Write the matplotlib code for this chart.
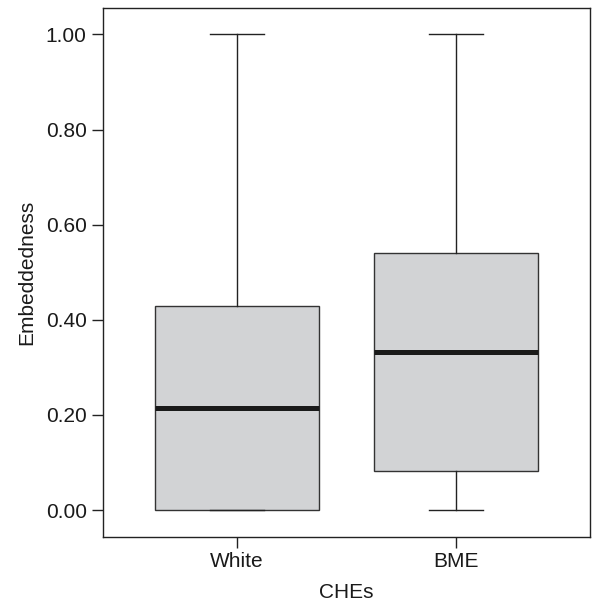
import matplotlib.pyplot as plt

plt.rcParams['font.family'] = ['Liberation Sans', 'DejaVu Sans']

# Values
groups = ['White', 'BME']
whisker_low = [0.0, 0.0]
q1 = [0.0, 0.083]
median = [0.214, 0.333]
q3 = [0.429, 0.541]
whisker_high = [1.0, 1.0]

stats = []
for i, name in enumerate(groups):
    stats.append({'label': name, 'whislo': whisker_low[i], 'q1': q1[i],
                  'med': median[i], 'q3': q3[i], 'whishi': whisker_high[i],
                  'fliers': []})

fig = plt.figure(figsize=(5.95, 6.04), dpi=100)
ax = fig.add_axes([0.1736, 0.1114, 0.818, 0.8749])

ax.bxp(stats, positions=[0, 1], widths=0.749, capwidths=0.245,
       showfliers=False, patch_artist=True,
       boxprops=dict(facecolor='#d2d3d5', edgecolor='#333333', linewidth=1.0),
       medianprops=dict(color='#1a1a1a', linewidth=3.6, solid_capstyle='butt'),
       whiskerprops=dict(color='#222222', linewidth=1.0),
       capprops=dict(color='#222222', linewidth=1.0))

ax.set_xlim(-0.61, 1.61)
ax.set_ylim(-0.056, 1.055)
ax.set_yticks([0.0, 0.2, 0.4, 0.6, 0.8, 1.0])
ax.set_yticklabels(['%.2f' % v for v in [0.0, 0.2, 0.4, 0.6, 0.8, 1.0]])
ax.set_xticks([0, 1])
ax.set_xticklabels(groups)
ax.tick_params(axis='both', labelsize=15, length=8, width=1.0,
               color='#222222', labelcolor='#1a1a1a')
ax.tick_params(axis='y', pad=4)
ax.tick_params(axis='x', pad=3)
for s in ax.spines.values():
    s.set_color('#222222')
    s.set_linewidth(1.0)

ax.set_xlabel('CHEs', fontsize=15, color='#1a1a1a', labelpad=9)
ax.set_ylabel('Embeddedness', fontsize=15, color='#1a1a1a', labelpad=6.5)

fig.savefig('out.png', dpi=100)
